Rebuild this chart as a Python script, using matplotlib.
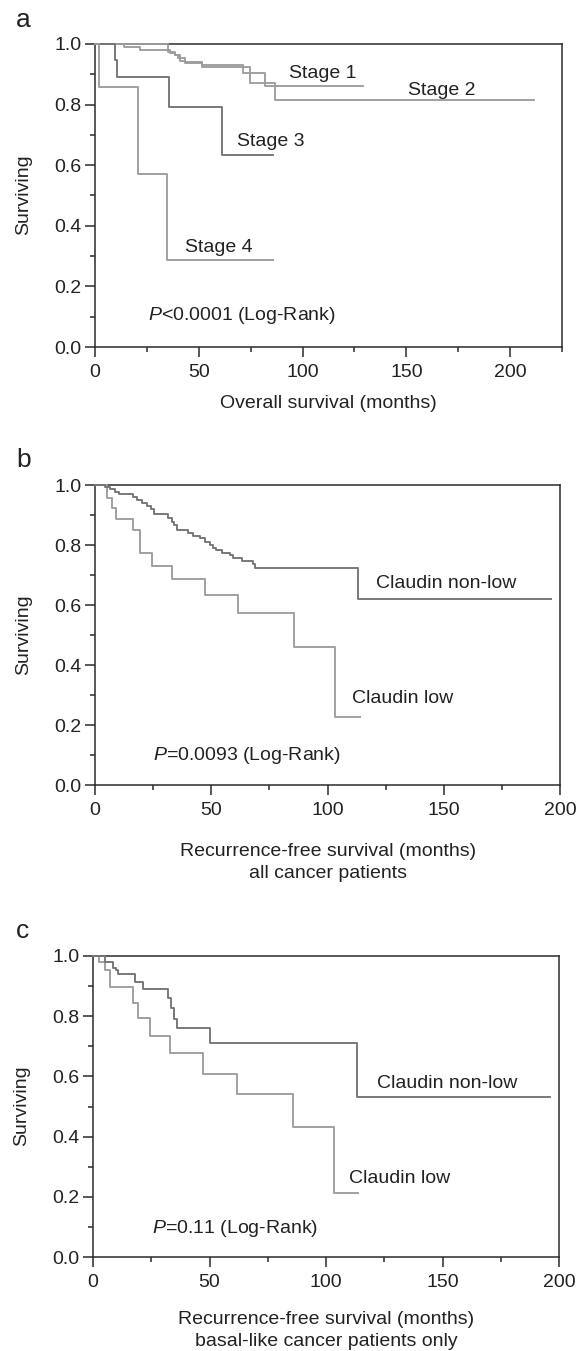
import matplotlib
matplotlib.use("Agg")
import matplotlib.pyplot as plt
from matplotlib.ticker import MultipleLocator, FormatStrFormatter

plt.rcParams['font.family'] = ['Liberation Sans', 'DejaVu Sans']
plt.rcParams['mathtext.fontset'] = 'custom'
plt.rcParams['mathtext.rm'] = 'Liberation Sans'
plt.rcParams['mathtext.it'] = 'Liberation Sans:italic'

# ---------------- data ----------------
# Panel a: overall survival by stage
stage1_t = [0, 14.1, 21.7, 36.1, 38.5, 40.1, 43.3, 51.4, 71.4, 81.9]
stage1_s = [1.0, 0.989, 0.980, 0.971, 0.964, 0.953, 0.939, 0.931, 0.903, 0.861]
stage1_end = 129
stage2_t = [0, 35.3, 38.5, 40.9, 43.3, 51.4, 74.6, 86.7]
stage2_s = [1.0, 0.975, 0.964, 0.945, 0.936, 0.923, 0.870, 0.815]
stage2_end = 211.5
stage3_t = [0, 9.7, 10.4, 35.5, 61.3]
stage3_s = [1.0, 0.947, 0.892, 0.791, 0.634]
stage3_end = 86
stage4_t = [0, 1.8, 20.9, 34.8]
stage4_s = [1.0, 0.857, 0.571, 0.286]
stage4_end = 86

# Panel b: RFS all cancer patients
b_nonlow_t = [0, 4.3, 6.5, 8.6, 10.5, 16.2, 17.9, 20.1, 22.2, 24.1, 25.5, 31.5, 33.0,
              34.0, 35.4, 40.1, 42.3, 45.2, 47.3, 49.5, 50.9, 52.0, 54.5, 58.0, 59.2,
              63.1, 68.1, 68.8, 113.0]
b_nonlow_s = [1.0, 0.994, 0.987, 0.978, 0.969, 0.961, 0.950, 0.939, 0.930, 0.919, 0.902,
              0.889, 0.878, 0.867, 0.850, 0.841, 0.831, 0.822, 0.811, 0.800, 0.791, 0.783,
              0.774, 0.766, 0.758, 0.748, 0.737, 0.724, 0.620]
b_nonlow_end = 196
b_low_t = [0, 5.0, 7.2, 9.0, 16.5, 19.4, 24.4, 33.0, 47.3, 61.6, 85.6, 103.2]
b_low_s = [1.0, 0.956, 0.922, 0.886, 0.850, 0.772, 0.730, 0.687, 0.633, 0.574, 0.461, 0.228]
b_low_end = 114

# Panel c: RFS basal-like only
c_nonlow_t = [0, 5.2, 8.7, 9.7, 10.9, 18.0, 21.6, 32.3, 33.5, 34.9, 35.9, 50.2, 113.2]
c_nonlow_s = [1.0, 0.981, 0.959, 0.953, 0.939, 0.914, 0.892, 0.859, 0.826, 0.792, 0.761,
              0.711, 0.533]
c_nonlow_end = 196
c_low_t = [0, 2.6, 5.2, 7.3, 17.0, 19.3, 24.6, 33.2, 47.4, 61.7, 86.0, 103.6]
c_low_s = [1.0, 0.981, 0.953, 0.898, 0.845, 0.793, 0.735, 0.677, 0.609, 0.541, 0.431, 0.214]
c_low_end = 113.7

y_ticks = [0.0, 0.2, 0.4, 0.6, 0.8, 1.0]
x_ticks = [0, 50, 100, 150, 200]

# ---------------- style ----------------
W, H = 578, 1351
DPI = 100
LIGHT = '#9c9c9c'
DARK = '#747474'
AX = '#2b2b2b'
FS = 14

fig = plt.figure(figsize=(W / DPI, H / DPI), dpi=DPI)


def px_axes(left, right, top, bottom):
    return fig.add_axes([left / W, 1 - bottom / H, (right - left) / W, (bottom - top) / H])


def km(ax, t, s, end, color):
    xs = list(t) + [end]
    ys = list(s) + [s[-1]]
    ax.step(xs, ys, where='post', color=color, lw=1.35, clip_on=False, zorder=3)


def style(ax, xmax):
    ax.set_xlim(0, xmax)
    ax.set_ylim(0, 1.0)
    ax.set_yticks(y_ticks)
    ax.set_xticks(x_ticks)
    ax.yaxis.set_major_formatter(FormatStrFormatter('%.1f'))
    ax.xaxis.set_minor_locator(MultipleLocator(25))
    ax.yaxis.set_minor_locator(MultipleLocator(0.1))
    for sp in ax.spines.values():
        sp.set_color(AX)
        sp.set_linewidth(1.1)
    ax.tick_params(which='major', direction='out', length=7, width=1.1, color=AX,
                   labelsize=FS, labelcolor='#222222')
    ax.tick_params(which='minor', direction='out', length=3.6, width=1.1, color=AX)
    ax.tick_params(axis='x', which='major', pad=5)
    ax.tick_params(axis='y', which='major', pad=2.5)
    ax.tick_params(top=False, right=False, which='both')


def ptext(ax, x, y, rest):
    ax.text(x, y, r'$P$' + rest, fontsize=FS, color='#222222', ha='left', va='baseline')


def lab(ax, x, y, s):
    ax.text(x, y, s, fontsize=FS, color='#222222', ha='left', va='baseline')


# Panel a
axa = px_axes(95, 562, 44, 347)
style(axa, 225)
km(axa, stage1_t, stage1_s, stage1_end, LIGHT)
km(axa, stage2_t, stage2_s, stage2_end, LIGHT)
km(axa, stage3_t, stage3_s, stage3_end, DARK)
km(axa, stage4_t, stage4_s, stage4_end, LIGHT)
lab(axa, 93.4, 0.888, 'Stage 1')
lab(axa, 150.8, 0.832, 'Stage 2')
lab(axa, 68.4, 0.663, 'Stage 3')
lab(axa, 43.4, 0.313, 'Stage 4')
ptext(axa, 25.5, 0.089, '<0.0001 (Log-Rank)')

# Panel b
axb = px_axes(95, 560, 485, 785)
style(axb, 200)
km(axb, b_low_t, b_low_s, b_low_end, LIGHT)
km(axb, b_nonlow_t, b_nonlow_s, b_nonlow_end, DARK)
lab(axb, 121, 0.657, 'Claudin non-low')
lab(axb, 110.5, 0.273, 'Claudin low')
ptext(axb, 25, 0.083, '=0.0093 (Log-Rank)')

# Panel c
axc = px_axes(93, 559, 956, 1257)
style(axc, 200)
km(axc, c_low_t, c_low_s, c_low_end, LIGHT)
km(axc, c_nonlow_t, c_nonlow_s, c_nonlow_end, DARK)
lab(axc, 122, 0.563, 'Claudin non-low')
lab(axc, 110, 0.247, 'Claudin low')
ptext(axc, 25.3, 0.080, '=0.11 (Log-Rank)')


def ftext(x, y, s, **kw):
    fig.text(x / W, 1 - y / H, s, color='#222222', **kw)


# axis labels
ftext(24, 195, 'Surviving', rotation=90, ha='center', va='center', fontsize=FS)
ftext(24, 635, 'Surviving', rotation=90, ha='center', va='center', fontsize=FS)
ftext(22, 1106, 'Surviving', rotation=90, ha='center', va='center', fontsize=FS)

ftext(328, 403, 'Overall survival (months)', ha='center', va='center', fontsize=FS)
ftext(328, 851, 'Recurrence-free survival (months)', ha='center', va='center', fontsize=FS)
ftext(328, 873, 'all cancer patients', ha='center', va='center', fontsize=FS)
ftext(326, 1319, 'Recurrence-free survival (months)', ha='center', va='center', fontsize=FS)
ftext(326, 1341, 'basal-like cancer patients only', ha='center', va='center', fontsize=FS)

# panel letters
ftext(16, 27, 'a', ha='left', va='baseline', fontsize=19)
ftext(16, 467, 'b', ha='left', va='baseline', fontsize=19)
ftext(16, 938, 'c', ha='left', va='baseline', fontsize=19)

fig.savefig('out.png', dpi=DPI)
